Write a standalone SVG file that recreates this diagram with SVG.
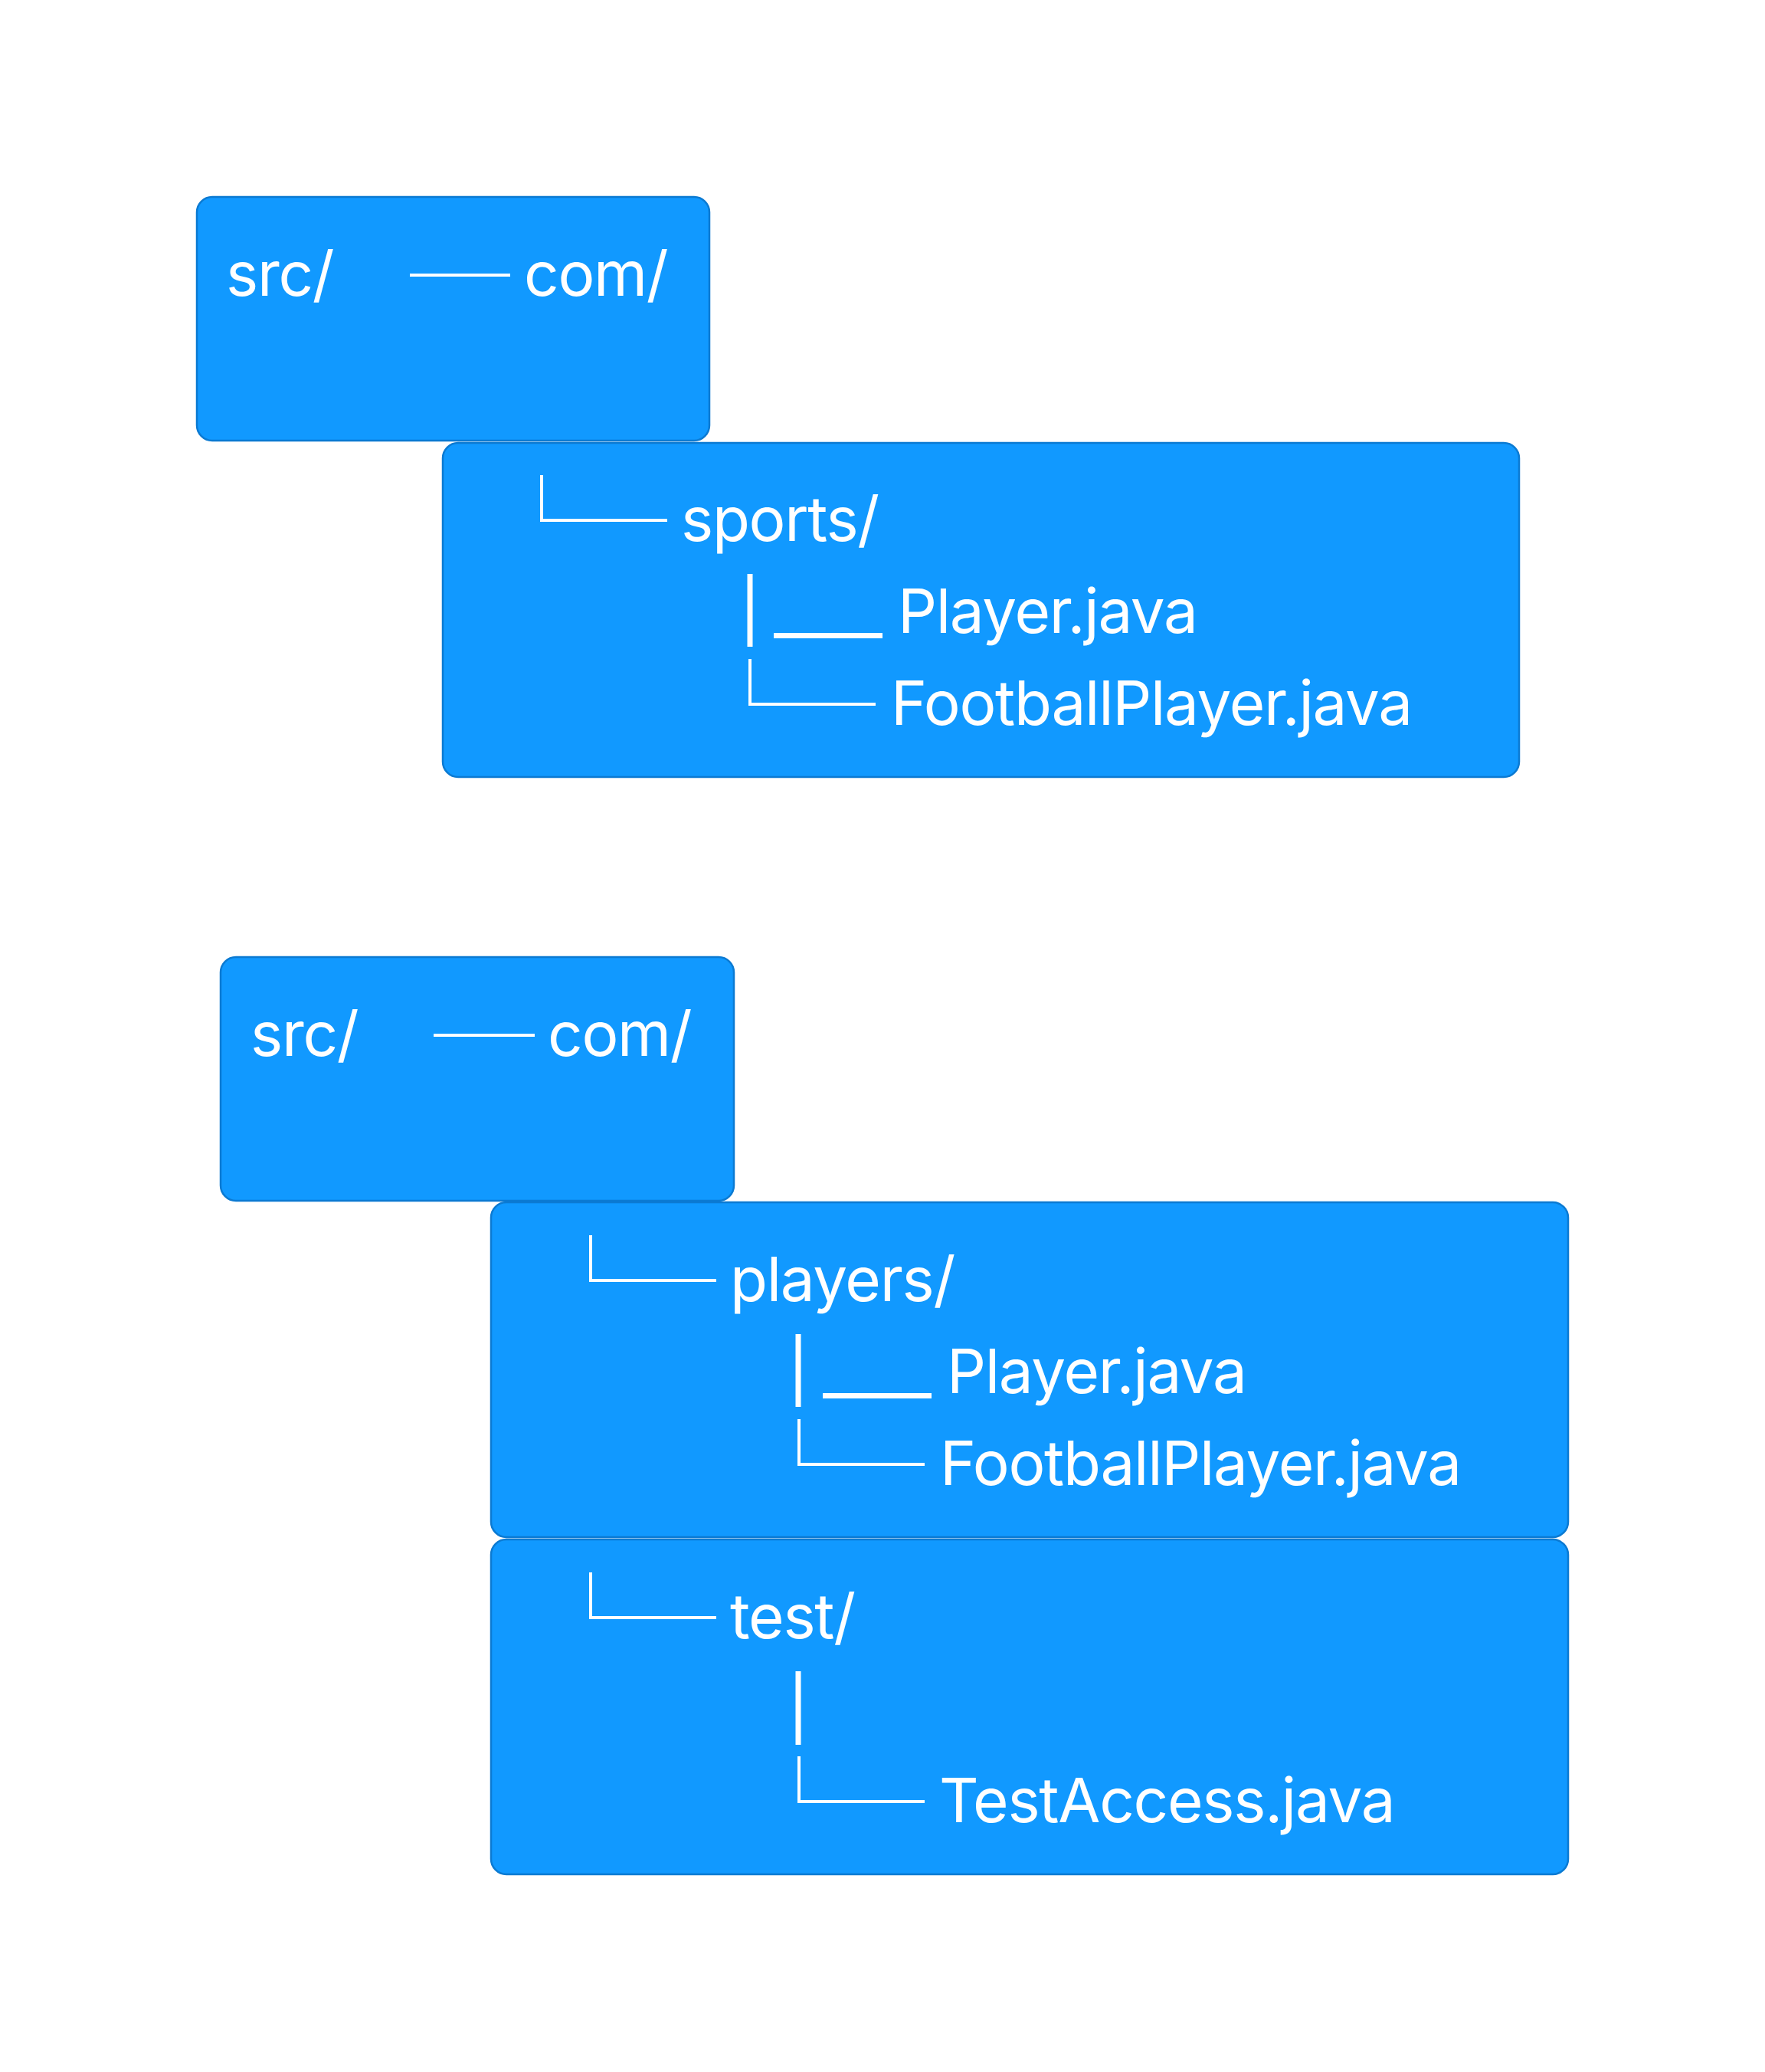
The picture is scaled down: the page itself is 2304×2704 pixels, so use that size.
<svg xmlns="http://www.w3.org/2000/svg" width="2304" height="2704" viewBox="0 0 2304 2704">
<style>
.box{fill:#1199ff;stroke:#0b7ad2;stroke-width:2.5}
.t{font-family:Inter,"Liberation Sans",sans-serif;font-size:80px;fill:#ffffff;letter-spacing:-1.3px}
.thin{fill:none;stroke:#ffffff;stroke-width:4}
.thick{fill:none;stroke:#ffffff;stroke-width:7}
</style>
<rect width="2304" height="2704" fill="#ffffff"/>
<g id="node-src1">
<rect class="box" x="257" y="257" width="669" height="318" rx="20"/>
<text class="t" x="295" y="386">src/</text>
<text class="t" x="684" y="386">com/</text>
</g>
<g id="node-sports">
<rect class="box" x="578" y="578" width="1405" height="436" rx="20"/>
<text class="t" x="889" y="706">sports/</text>
<text class="t" x="1172" y="826">Player.java</text>
<text class="t" x="1163" y="946">FootballPlayer.java</text>
</g>
<g id="node-src2">
<rect class="box" x="288" y="1249" width="670" height="318" rx="20"/>
<text class="t" x="327" y="1378">src/</text>
<text class="t" x="715" y="1378">com/</text>
</g>
<g id="node-players">
<rect class="box" x="641" y="1569" width="1406" height="437" rx="20"/>
<text class="t" x="953" y="1698">players/</text>
<text class="t" x="1236" y="1818">Player.java</text>
<text class="t" x="1227" y="1938">FootballPlayer.java</text>
</g>
<g id="node-test">
<rect class="box" x="641" y="2009" width="1406" height="437" rx="20"/>
<text class="t" x="953" y="2138">test/</text>
<text class="t" x="1226" y="2378">TestAccess.java</text>
</g>
<g id="connectors">
<path class="thin" d="M535,359 H666"/>
<path class="thin" d="M566,1351 H698"/>
<path class="thin" d="M707,620 V679 H871"/>
<path class="thick" d="M979,749 V844"/>
<path class="thick" d="M1010,829.5 H1152"/>
<path class="thin" d="M979,860 V919 H1143"/>
<path class="thin" d="M771,1612 V1671 H935"/>
<path class="thick" d="M1042,1741 V1836"/>
<path class="thick" d="M1074,1821.5 H1216"/>
<path class="thin" d="M1043,1852 V1911 H1207"/>
<path class="thin" d="M771,2052 V2111 H935"/>
<path class="thick" d="M1042,2181 V2277"/>
<path class="thin" d="M1043,2292 V2351 H1207"/>
</g>
</svg>
